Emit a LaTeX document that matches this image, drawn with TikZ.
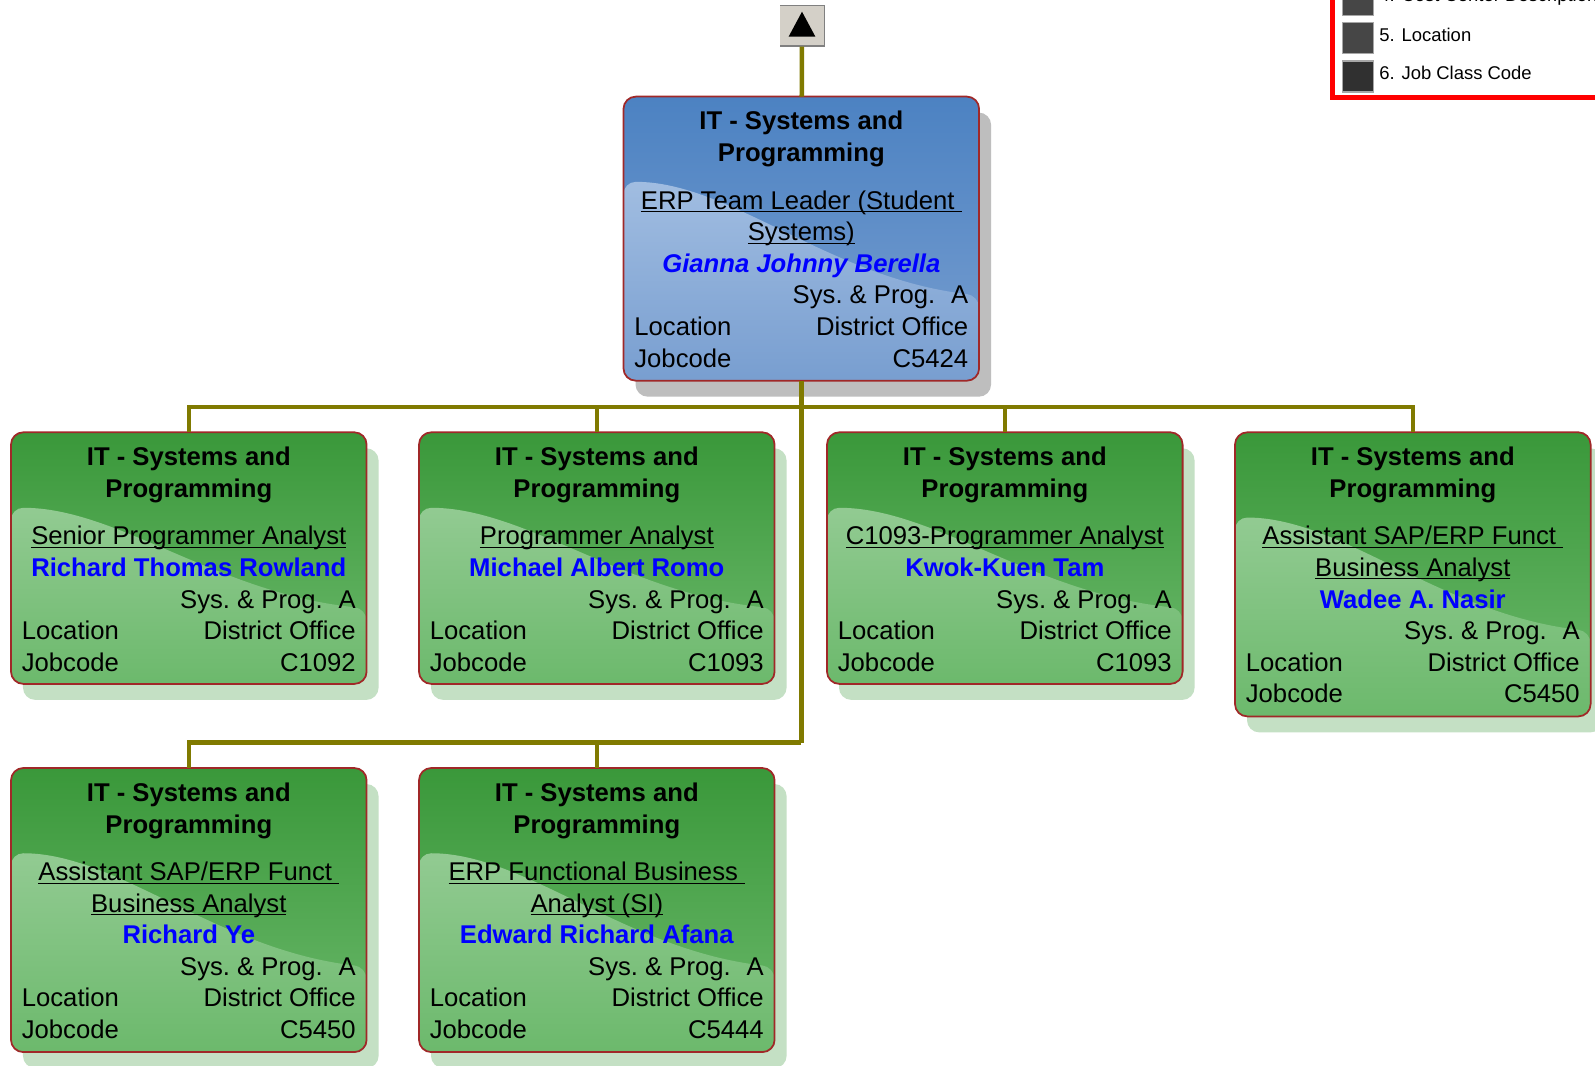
\documentclass[tikz,border=0pt]{standalone}
\usepackage{fontspec}
\setmainfont{Liberation Sans}
\usetikzlibrary{calc,positioning,shadows}

\definecolor{cardedge}{RGB}{160,40,40}
\definecolor{nameblue}{RGB}{0,0,255}
\definecolor{linkolive}{RGB}{128,122,0}
\definecolor{greentop}{RGB}{58,152,58}
\definecolor{greenbot}{RGB}{108,185,108}
\definecolor{greenwave}{RGB}{162,210,162}
\definecolor{greenshade}{RGB}{196,224,196}
\definecolor{bluetop}{RGB}{76,130,194}
\definecolor{bluebot}{RGB}{120,158,208}
\definecolor{bluewave}{RGB}{178,202,232}
\definecolor{greyshade}{RGB}{190,190,190}
\definecolor{btngrey}{RGB}{212,208,200}
\definecolor{keymid}{RGB}{70,70,70}
\definecolor{keydark}{RGB}{48,48,48}

\newcommand{\uln}[1]{\underline{\smash{#1}}}
\newcommand{\titleline}[1]{\hbox to\hsize{\hfil\uln{#1}\hfil}}
\newcommand{\cardtext}[4]{\vbox to #1{\hsize=190pt \baselineskip=18pt \lineskiplimit=-10pt
  \hbox to\hsize{\hfil\rule{0pt}{19pt}\textbf{IT - Systems and}\hfil}
  \hbox to\hsize{\hfil\textbf{Programming}\hfil}
  \vskip 9pt
  #2
  \hbox to\hsize{\hfil\textcolor{nameblue}{\textbf{#3}}\hfil}
  \hbox to\hsize{\hfil Sys.\ \&\ Prog.\hspace{9pt}A}
  \hbox to\hsize{Location\hfil District Office}
  \hbox to\hsize{Jobcode\hfil #4}
  \vss}}
\newcommand{\cardwave}[2]{\shade[top color=#1, bottom color=#2]
  let \p1=(path picture bounding box.south west), \p2=(path picture bounding box.north east),
      \n1={\x2-\x1}, \n2={\y2-\y1} in
  (\x1,{\y2-0.3*\n2}) .. controls ({\x1+0.3*\n1},{\y2-0.3*\n2}) and ({\x1+0.58*\n1},{\y2-0.64*\n2}) .. (\x2,{\y2-0.7*\n2})
  -- (\x2,\y1) -- (\x1,\y1) -- cycle;}

\tikzset{
  card/.style={draw=cardedge, line width=1pt, rounded corners=7pt, inner xsep=6.2pt, inner ysep=0pt,
    outer sep=0pt, anchor=north west, font=\fontsize{14.6pt}{18pt}\selectfont},
  greencard/.style={card, top color=greentop, bottom color=greenbot, path picture={\cardwave{greenwave}{greenbot}},
    drop shadow={shadow xshift=0.24cm, shadow yshift=-0.32cm, fill=greenshade, opacity=1}},
  bluecard/.style={card, top color=bluetop, bottom color=bluebot, path picture={\cardwave{bluewave}{bluebot}},
    drop shadow={shadow xshift=0.24cm, shadow yshift=-0.32cm, fill=greyshade, opacity=1}},
  link/.style={draw=linkolive, line width=2.6pt},
  upbtn/.style={fill=btngrey, draw=gray, line width=0.6pt, minimum width=0.9cm, minimum height=0.82cm, inner sep=0pt},
  keyframe/.style={draw=red, line width=2.3pt, fill=white},
  keysq/.style={draw=gray!70, line width=0.6pt, minimum size=0.62cm, inner sep=0pt},
  keytext/.style={inner sep=0pt, anchor=west, font=\fontsize{10.5pt}{12pt}\selectfont}
}

\begin{document}
\begin{tikzpicture}[x=0.02cm, y=-0.02cm]
\useasboundingbox (0,0) rectangle (1595,1065);
\clip (0,0) rectangle (1595,1065);
\fill[white] (0,0) rectangle (1595,1065);

\draw[keyframe] (1332.5,-60) rectangle (1700,97.5);
\foreach \k/\txt/\col in {0/{4. Cost Center Description}/keymid, 1/{5. Location}/keymid, 2/{6. Job Class Code}/keydark}{
  \node[keysq, fill=\col] (sq\k) at (1358,{0.1+38.2*\k}) {};
  \node[keytext, right=2.8pt of sq\k, yshift=2.2pt] (kt\k) {\txt};
}

\node[upbtn] (up) at (802,25.5) {};
\draw[white, line width=1pt] (up.south west) |- (up.north east);
\fill (up.center) ++(0,-13.8) -- ++(13.4,25) -- ++(-26.8,0) -- cycle;

\node[bluecard] (boss) at (623.5,96.6) {\cardtext{161.7pt}{\titleline{ERP Team Leader (Student\ }\titleline{Systems)}}{\textit{Gianna Johnny Berella}}{C5424}};

\node[greencard] (c1) at (11,432.3) {\cardtext{143.2pt}{\titleline{Senior Programmer Analyst}}{Richard Thomas Rowland}{C1092}};
\node[greencard] (c2) at (419,432.3) {\cardtext{143.2pt}{\titleline{Programmer Analyst}}{Michael Albert Romo}{C1093}};
\node[greencard] (c3) at (827,432.3) {\cardtext{143.2pt}{\titleline{C1093-Programmer Analyst}}{Kwok-Kuen Tam}{C1093}};
\node[greencard] (c4) at (1235,432.3) {\cardtext{161.7pt}{\titleline{Assistant SAP/ERP Funct\ }\titleline{Business Analyst}}{Wadee A. Nasir}{C5450}};
\node[greencard] (c5) at (11,768) {\cardtext{161.7pt}{\titleline{Assistant SAP/ERP Funct\ }\titleline{Business Analyst}}{Richard Ye}{C5450}};
\node[greencard] (c6) at (419,768) {\cardtext{161.7pt}{\titleline{ERP Functional Business\ }\titleline{Analyst (SI)}}{Edward Richard Afana}{C5444}};

\coordinate (bus1) at ($(boss.south)+(0,26.5)$);
\coordinate (bus2) at ($(boss.south)+(0,362)$);
\draw[link] (up) -- (boss);
\draw[link] (boss.south) -- (bus2);
\draw[link] (c1.north) |- (bus1) -| (c4.north);
\draw[link] (c2.north) -- (c2.north |- bus1);
\draw[link] (c3.north) -- (c3.north |- bus1);
\draw[link] (c5.north) |- (bus2);
\draw[link] (c6.north) -- (c6.north |- bus2);
\end{tikzpicture}
\end{document}
